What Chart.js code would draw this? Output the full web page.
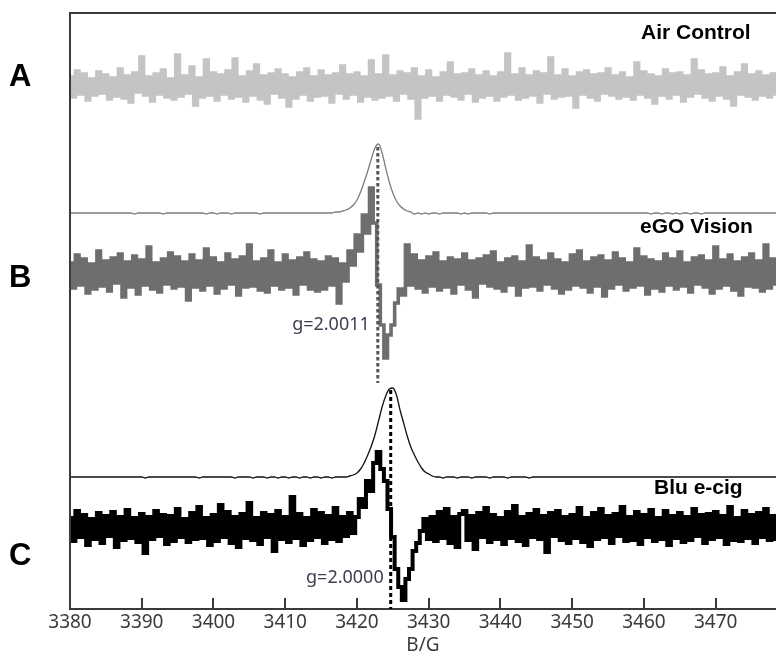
<!DOCTYPE html>
<html><head><meta charset="utf-8">
<script src="https://cdn.jsdelivr.net/npm/chart.js@4/dist/chart.umd.min.js"></script>
<style>html,body{margin:0;padding:0;background:#fff}#wrap{width:776px;height:658px;position:relative}</style>
</head><body><div id="wrap"><canvas id="c"></canvas></div>
<script>
// Magnetic field B (G), 0.5 G steps
const field = [
3380,3380.5,3381,3381.5,3382,3382.5,3383,3383.5,3384,3384.5,
3385,3385.5,3386,3386.5,3387,3387.5,3388,3388.5,3389,3389.5,
3390,3390.5,3391,3391.5,3392,3392.5,3393,3393.5,3394,3394.5,
3395,3395.5,3396,3396.5,3397,3397.5,3398,3398.5,3399,3399.5,
3400,3400.5,3401,3401.5,3402,3402.5,3403,3403.5,3404,3404.5,
3405,3405.5,3406,3406.5,3407,3407.5,3408,3408.5,3409,3409.5,
3410,3410.5,3411,3411.5,3412,3412.5,3413,3413.5,3414,3414.5,
3415,3415.5,3416,3416.5,3417,3417.5,3418,3418.5,3419,3419.5,
3420,3420.5,3421,3421.5,3422,3422.5,3423,3423.5,3424,3424.5,
3425,3425.5,3426,3426.5,3427,3427.5,3428,3428.5,3429,3429.5,
3430,3430.5,3431,3431.5,3432,3432.5,3433,3433.5,3434,3434.5,
3435,3435.5,3436,3436.5,3437,3437.5,3438,3438.5,3439,3439.5,
3440,3440.5,3441,3441.5,3442,3442.5,3443,3443.5,3444,3444.5,
3445,3445.5,3446,3446.5,3447,3447.5,3448,3448.5,3449,3449.5,
3450,3450.5,3451,3451.5,3452,3452.5,3453,3453.5,3454,3454.5,
3455,3455.5,3456,3456.5,3457,3457.5,3458,3458.5,3459,3459.5,
3460,3460.5,3461,3461.5,3462,3462.5,3463,3463.5,3464,3464.5,
3465,3465.5,3466,3466.5,3467,3467.5,3468,3468.5,3469,3469.5,
3470,3470.5,3471,3471.5,3472,3472.5,3473,3473.5,3474,3474.5,
3475,3475.5,3476,3476.5,3477,3477.5,3478,3478.5];

const tickValues = [3380,3390,3400,3410,3420,3430,3440,3450,3460,3470];
const tickLabels = ['3380','3390','3400','3410','3420','3430','3440','3450','3460','3470'];

// A: Air Control, first-derivative EPR signal (arb. units)
const airControl = [
8,-12,14,-9,11,-15,6,-10,13,-8,
10,-14,7,-11,16,-13,9,-17,12,-7,
28,-10,8,-16,11,-9,15,-12,6,-14,
30,-11,9,-8,18,-20,7,-12,25,-10,
12,-15,10,-9,14,-13,26,-11,8,-16,
13,-10,20,-14,9,-18,11,-8,15,-12,
10,-21,7,-13,12,-9,16,-15,8,-11,
14,-10,9,-17,11,-8,19,-13,10,-9,
12,-16,8,-11,24,-14,10,-12,29,-10,
9,-15,13,-8,11,-13,16,-33,8,-12,
14,-10,7,-15,12,-9,22,-11,10,-14,
11,-8,15,-16,9,-12,13,-10,8,-15,
12,-11,31,-9,10,-14,16,-12,9,-10,
13,-17,11,-8,27,-13,9,-11,15,-10,
8,-22,12,-9,14,-12,10,-15,11,-8,
16,-10,9,-13,12,-11,7,-14,22,-9,
13,-12,10,-18,8,-10,15,-13,11,-9,
12,-16,9,-11,25,-8,14,-12,10,-15,
11,-10,17,-13,8,-20,12,-9,20,-11,
10,-14,13,-10,9,-12,11,-9];

// B: eGO Vision, integrated (absorption) spectrum
const egoAbsorption = [
0,0,0,0,0,0,0,0,0,0,
0,0,0,0,0,0,0,0,-1,0,
0,0,0,0,0,0,-1,0,0,0,
0,0,0,0,0,0,0,0,-1,0,
0,-1,0,0,0,-1,0,0,0,0,
0,0,0,-1,0,0,0,0,0,0,
0,0,0,0,0,0,0,0,0,0,
0,0,0,0,1,1,2,3,5,8,
13,21,31,42,54,65,69,60,45,31,
20,12,7,4,2,1,-1,0,-1,0,
-1,0,0,-1,0,0,0,0,0,-1,
0,-1,0,0,0,0,0,-1,0,0,
0,0,0,0,0,0,0,0,0,0,
0,0,0,0,0,0,0,0,0,0,
0,0,0,0,0,0,0,0,0,0,
0,0,0,0,0,0,0,0,0,0,
0,0,-1,0,0,-1,0,0,-1,0,
-1,0,0,-1,0,0,-1,0,0,0,
0,0,0,0,0,0,0,0,0,0,
0,0,0,0,0,0,0,0];

// B: eGO Vision, first-derivative spectrum
const egoDerivative = [
10,-15,18,-12,14,-20,9,-16,22,-13,
12,-18,15,-10,19,-24,11,-14,17,-21,
13,-12,26,-16,10,-19,14,-11,20,-15,
16,-13,11,-27,18,-14,12,-17,24,-12,
15,-20,10,-15,19,-11,13,-22,16,-14,
28,-13,11,-17,14,-19,22,-12,10,-16,
18,-14,12,-21,15,-11,20,-16,13,-18,
11,-16,16,-12,14,-30,9,-8,22,8,
38,22,58,40,85,50,-12,-52,-85,-62,
-52,-30,-16,-22,28,-12,18,-15,12,-19,
16,-13,20,-17,11,-14,15,-20,13,-11,
19,-16,12,-24,14,-10,17,-13,21,-15,
10,-18,14,-12,16,-22,11,-14,27,-13,
15,-17,12,-11,19,-15,13,-20,10,-16,
18,-12,22,-14,11,-19,15,-13,17,-23,
12,-15,20,-11,14,-17,10,-14,24,-12,
16,-21,13,-15,11,-18,19,-12,14,-16,
21,-13,10,-19,15,-11,17,-14,12,-20,
26,-15,13,-12,18,-17,11,-22,15,-13,
19,-14,12,-18,28,-15,14,-11];

// C: Blu e-cig, integrated (absorption) spectrum
const bluAbsorption = [
0,0,0,0,0,0,0,0,0,0,
0,0,0,0,0,0,0,0,0,0,
0,-1,0,0,0,0,0,0,0,0,
0,0,0,0,0,0,-1,0,0,0,
0,0,0,0,0,0,-1,0,0,0,
0,-1,0,0,0,-1,0,0,-1,0,
0,-1,0,0,-1,0,0,-1,0,0,
-1,0,0,-1,0,0,0,0,1,2,
4,8,14,22,31,42,56,70,81,88,
89,82,67,54,41,30,22,15,9,5,
3,1,0,0,-1,0,0,0,-1,0,
0,0,-1,0,0,0,0,-1,0,0,
0,0,-1,0,0,0,0,0,-1,0,
0,0,0,0,0,0,0,0,0,0,
0,0,0,0,0,0,0,0,0,0,
0,0,0,0,0,0,0,0,0,0,
0,0,0,0,0,0,0,0,0,0,
0,0,0,0,0,0,0,0,0,0,
0,0,0,0,0,0,0,0,0,0,
0,0,0,0,0,0,0,0];

// C: Blu e-cig, first-derivative spectrum
const bluDerivative = [
9,-14,16,-10,12,-18,8,-12,14,-16,
11,-9,15,-20,10,-13,17,-11,9,-15,
13,-26,10,-12,16,-9,12,-17,11,-14,
18,-10,8,-15,14,-12,20,-11,9,-18,
12,-14,22,-10,15,-16,10,-20,13,-11,
24,-13,9,-17,14,-10,12,-24,16,-12,
10,-15,30,-11,13,-18,9,-13,17,-10,
14,-16,11,-12,19,-14,10,-9,14,-6,
10,28,20,46,36,64,75,58,46,18,
-10,-42,-60,-73,-52,-42,-24,-16,-4,8,
-12,10,-14,15,-11,18,-16,10,-20,13,
16,-13,11,-22,14,-10,19,-15,12,-12,
9,-17,15,-11,21,-14,10,-18,13,-10,
17,-12,11,-25,14,-9,16,-13,10,-16,
12,-11,19,-15,9,-19,14,-12,18,-10,
11,-16,13,-9,20,-14,10,-13,15,-17,
12,-10,17,-14,9,-12,16,-18,11,-11,
14,-15,10,-13,18,-9,12,-16,13,-12,
15,-10,11,-17,20,-13,9,-14,16,-11,
12,-16,14,-10,18,-13,11,-12];

// g-factor markers (field position of zero crossing)
const gFields = [3422.9, 3424.7];
const gLabels = ['g=2.0011', 'g=2.0000'];
const sampleNames = ['Air Control', 'eGO Vision', 'Blu e-cig'];
const panelLetters = ['A', 'B', 'C'];

// ---- layout (vertical stacking offsets, in y-axis units) ----
const OFF = {air: 524, egoAbs: 396, egoDer: 336, bluAbs: 132, bluDer: 82};
const DASH = [[462, 226], [219, 0]];
const shift = (arr, o) => arr.map(v => v + o);

const deco = {
  id: 'deco',
  afterDraw(chart) {
    const {ctx, chartArea: a, scales: {x}} = chart;
    ctx.save();
    ctx.strokeStyle = '#3a3a3a';
    ctx.lineWidth = 2;
    ctx.beginPath();
    ctx.moveTo(a.left, a.bottom);
    ctx.lineTo(a.left, a.top);
    ctx.lineTo(a.right, a.top);
    x.ticks.forEach(t => {
      const px = Math.round(x.getPixelForValue(t.value));
      ctx.moveTo(px, a.bottom);
      ctx.lineTo(px, a.bottom - 11);
    });
    ctx.stroke();

    ctx.fillStyle = '#000';
    ctx.textBaseline = 'alphabetic';
    ctx.textAlign = 'left';
    ctx.font = "bold 21px 'Liberation Sans', Arial, sans-serif";
    ctx.fillText(sampleNames[0], 641, 39);
    ctx.fillText(sampleNames[1], 640, 233);
    ctx.fillText(sampleNames[2], 654, 494);

    ctx.font = "bold 31px 'Liberation Sans', Arial, sans-serif";
    ctx.fillText(panelLetters[0], 9, 86);
    ctx.fillText(panelLetters[1], 9, 287);
    ctx.fillText(panelLetters[2], 9, 565);

    ctx.font = "18px 'Noto Sans', sans-serif";
    ctx.fillStyle = '#3e3e50';
    ctx.textAlign = 'right';
    ctx.fillText(gLabels[0], x.getPixelForValue(gFields[0]) - 8, 330);
    ctx.fillText(gLabels[1], x.getPixelForValue(gFields[1]) - 7, 583);
    ctx.restore();
  }
};

const base = {pointRadius: 0, fill: false, tension: 0};
new Chart(document.getElementById('c'), {
  type: 'line',
  data: {
    labels: field,
    datasets: [
      Object.assign({}, base, {data: [{x: gFields[0], y: DASH[0][0]}, {x: gFields[0], y: DASH[0][1]}],
        borderColor: '#555', borderWidth: 3, borderDash: [3.5, 2.5]}),
      Object.assign({}, base, {data: [{x: gFields[1], y: DASH[1][0]}, {x: gFields[1], y: DASH[1][1]}],
        borderColor: '#000', borderWidth: 3, borderDash: [4, 3]}),
      Object.assign({}, base, {data: shift(airControl, OFF.air), borderColor: '#c4c4c4', borderWidth: 3.6, stepped: 'middle'}),
      Object.assign({}, base, {data: shift(egoAbsorption, OFF.egoAbs), borderColor: '#7c7c7c', borderWidth: 1.3, cubicInterpolationMode: 'monotone'}),
      Object.assign({}, base, {data: shift(egoDerivative, OFF.egoDer), borderColor: '#6e6e6e', borderWidth: 3.6, stepped: 'middle'}),
      Object.assign({}, base, {data: shift(bluAbsorption, OFF.bluAbs), borderColor: '#111', borderWidth: 1.3, cubicInterpolationMode: 'monotone'}),
      Object.assign({}, base, {data: shift(bluDerivative, OFF.bluDer), borderColor: '#000', borderWidth: 4, stepped: 'middle'})
    ]
  },
  options: {
    responsive: true,
    maintainAspectRatio: false,
    animation: false,
    events: [],
    layout: {padding: {left: 70, top: 13, right: 0, bottom: 0}},
    plugins: {legend: {display: false}, tooltip: {enabled: false}},
    scales: {
      x: {
        type: 'linear', min: 3380, max: 3478.4,
        afterBuildTicks: s => { s.ticks = tickValues.map(v => ({value: v})); },
        afterFit: s => { s.height = 49; },
        grid: {display: false, drawTicks: false},
        border: {display: true, color: '#3a3a3a', width: 2},
        ticks: {autoSkip: false, maxRotation: 0, padding: 2, color: '#3b3b3b',
          font: {size: 19, family: "'Noto Sans', sans-serif"},
          callback: (v, i) => tickLabels[i]},
        title: {display: true, text: 'B/G', color: '#3b3b3b',
          font: {size: 19, family: "'Noto Sans', sans-serif"}, padding: {top: 0, bottom: 1}}
      },
      y: {display: false, min: 0, max: 596}
    }
  },
  plugins: [deco]
});
</script>
</body></html>
